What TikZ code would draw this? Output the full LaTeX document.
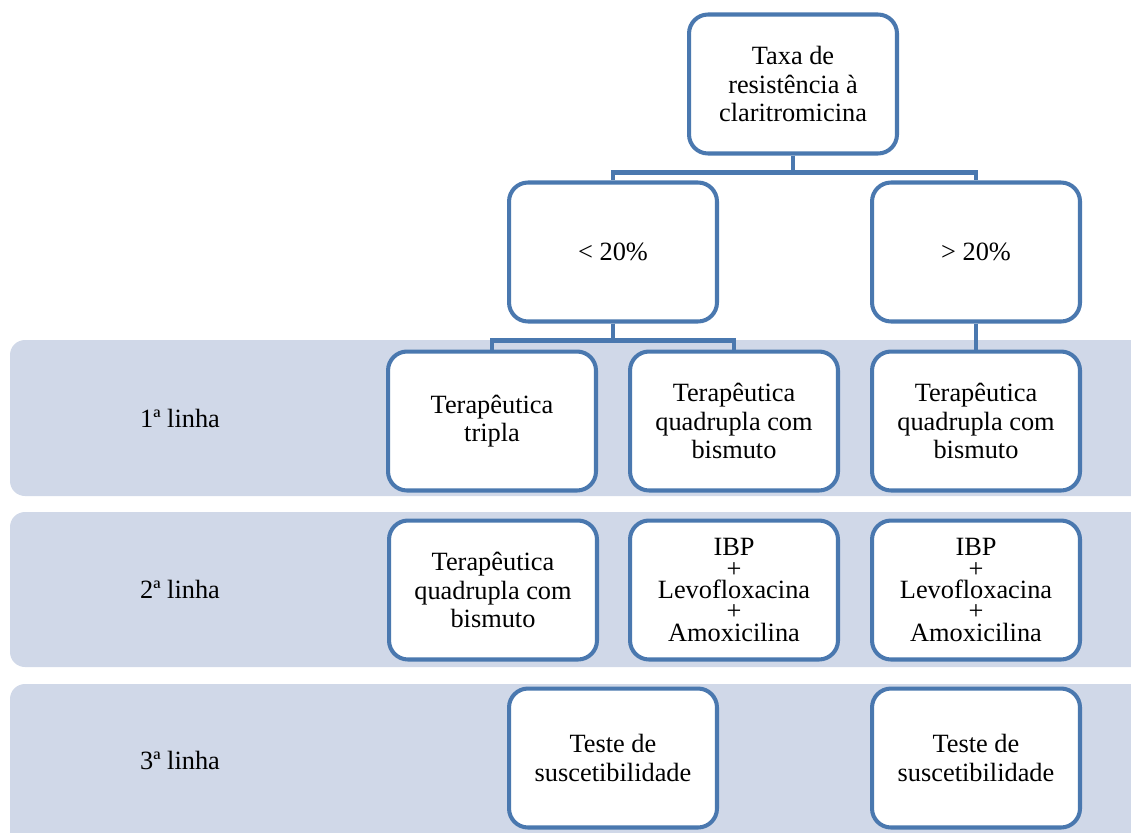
\documentclass[tikz,border=0pt]{standalone}
\usepackage{fontspec}
\setmainfont{Liberation Serif}
\definecolor{boxblue}{HTML}{4A78AF}
\definecolor{bandfill}{HTML}{D0D8E8}
\newcommand\tightfont{\fontsize{15}{12.2}\selectfont\lineskiplimit=-20pt\relax}
\begin{document}
\begin{tikzpicture}[x=0.02cm, y=-0.02cm,
    every node/.style = {align=center, font=\fontsize{15}{16}\selectfont},
    box/.style = {draw=boxblue, line width=2.3pt, fill=white, rounded corners=0.38cm,
        minimum width=4.16cm, minimum height=2.78cm, inner sep=2pt},
    tight/.style = {font=\tightfont},
    link/.style = {draw=boxblue, line width=2.3pt},
    band/.style = {fill=bandfill, rounded corners=0.3cm}]
    \useasboundingbox (0,0) rectangle (1131,832);
    % faixas das linhas de tratamento
    \fill[band] (10,340) rectangle (1160,496);
    \fill[band] (10,512) rectangle (1160,667);
    \fill[band] (10,684) rectangle (1160,880);
    \node (linha1) at (180,418) {1ª linha};
    \node (linha2) at (180,589) {2ª linha};
    \node (linha3) at (180,760) {3ª linha};

    \node[box] (taxa) at (793,84) {Taxa de\\resistência à\\claritromicina};
    \node[box] (menor) at (613,252) {< 20\%};
    \node[box] (maior) at (976,252) {> 20\%};

    \node[box] (tripla) at (492,421) {Terapêutica\\tripla};
    \node[box] (quadA) at (734,421) {Terapêutica\\quadrupla com\\bismuto};
    \node[box] (quadB) at (976,421) {Terapêutica\\quadrupla com\\bismuto};

    \node[box] (quadC) at (493,590) {Terapêutica\\quadrupla com\\bismuto};
    \node[box, tight] (ibpA) at (734,590) {IBP\\+\\Levofloxacina\\+\\Amoxicilina};
    \node[box, tight] (ibpB) at (976,590) {IBP\\+\\Levofloxacina\\+\\Amoxicilina};

    \node[box] (testeA) at (613,758) {Teste de\\suscetibilidade};
    \node[box] (testeB) at (976,758) {Teste de\\suscetibilidade};

    \draw[link] (taxa.south) -- ++(0,17) -| (menor.north);
    \draw[link] (taxa.south) -- ++(0,17) -| (maior.north);
    \draw[link] (menor.south) -- ++(0,17) -| (tripla.north);
    \draw[link] (menor.south) -- ++(0,17) -| (quadA.north);
    \draw[link] (maior.south) -- (quadB.north);
\end{tikzpicture}
\end{document}
